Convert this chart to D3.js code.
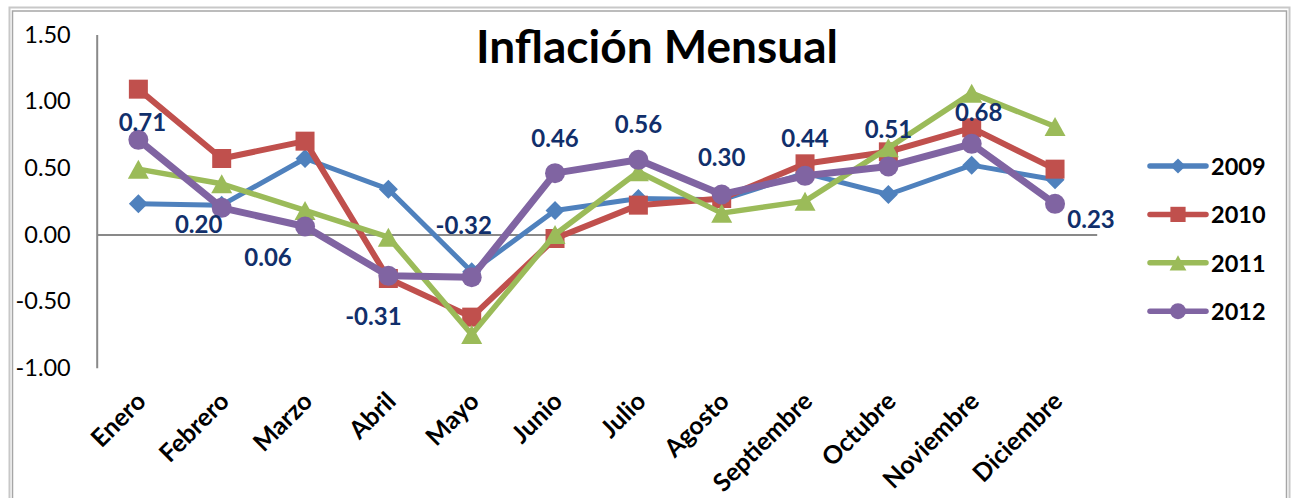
<!DOCTYPE html>
<html>
<head>
<meta charset="utf-8">
<script src="https://cdn.jsdelivr.net/npm/d3@7/dist/d3.min.js"></script>
<style>
  html, body { margin: 0; padding: 0; background: #ffffff; }
  svg { display: block; font-family: Lato, "Open Sans", sans-serif; }
</style>
</head>
<body>
<svg id="chart" width="1295" height="498"></svg>
<script>
// ---- data ----
const categories = ["Enero", "Febrero", "Marzo", "Abril", "Mayo", "Junio",
                    "Julio", "Agosto", "Septiembre", "Octubre", "Noviembre", "Diciembre"];
const seriesNames = ["2009", "2010", "2011", "2012"];
const values2009 = [0.23, 0.22, 0.57, 0.34, -0.28, 0.18, 0.27, 0.26, 0.46, 0.30, 0.52, 0.41];
const values2010 = [1.09, 0.57, 0.70, -0.33, -0.62, -0.03, 0.22, 0.27, 0.53, 0.62, 0.80, 0.49];
const values2011 = [0.49, 0.38, 0.18, -0.02, -0.75, 0.00, 0.47, 0.16, 0.25, 0.65, 1.06, 0.81];
const values2012 = [0.71, 0.20, 0.06, -0.31, -0.32, 0.46, 0.56, 0.30, 0.44, 0.51, 0.68, 0.23];
const yTickValues = [1.5, 1.0, 0.5, 0.0, -0.5, -1.0];
const titleText = "Inflación Mensual";

// ---- styling / placement (kept apart from the data) ----
const colors = ["#4F81BD", "#C0504D", "#9BBB59", "#8064A2"];
const lineWidths = [5, 6, 5.5, 7];
const markerTypes = ["diamond", "square", "triangle", "circle"];
// data-label offsets for the 2012 series, [dx, dy] in px
const labelOffsets = [[4, -18], [-23, 16], [-37, 30], [-15, 40], [-8, -53], [0, -36],
                      [0, -36], [0, -38], [0, -38], [0, -38], [7, -32], [36, 15]];

const fmt = d => d.toFixed(2);   // Excel style, ASCII hyphen for negatives

const svg = d3.select("#chart");

// chart border (double grey line)
svg.append("rect").attr("x", 9.5).attr("y", 7.5).attr("width", 1280).attr("height", 520)
  .attr("fill", "none").attr("stroke", "#C8C8C8").attr("stroke-width", 2);
svg.append("rect").attr("x", 12.5).attr("y", 11).attr("width", 1274).attr("height", 520)
  .attr("fill", "none").attr("stroke", "#A6A6A6").attr("stroke-width", 1.5);

const x = d3.scaleBand().domain(categories).range([96.7, 1096.7]);
const y = d3.scaleLinear().domain([-1, 1.5]).range([367.8, 34.5]);
const cx = c => x(c) + x.bandwidth() / 2;

// y axis
const yAxis = svg.append("g").attr("transform", "translate(96.7,0)")
  .call(d3.axisLeft(y).tickValues(yTickValues).tickFormat(fmt)
        .tickSize(0).tickSizeOuter(0).tickPadding(26));
yAxis.select(".domain").attr("stroke", "#898989").attr("stroke-width", 2);
yAxis.selectAll("text").attr("font-size", "23.5px").attr("fill", "#000")
  .attr("font-family", "Lato, sans-serif");

// zero line (category axis)
const zeroAxis = svg.append("g").attr("transform", `translate(0,${y(0)})`)
  .call(d3.axisBottom(x).tickSize(0).tickSizeOuter(0).tickFormat(""));
zeroAxis.select(".domain").attr("stroke", "#898989").attr("stroke-width", 2);

// category labels at bottom
const xLab = svg.append("g").attr("transform", `translate(0,${y(-1)})`)
  .call(d3.axisBottom(x).tickSize(0).tickSizeOuter(0));
xLab.select(".domain").remove();
xLab.selectAll("text")
  .attr("y", 0).attr("dy", 0)
  .attr("text-anchor", "end")
  .attr("transform", "translate(9,35) rotate(-45)")
  .attr("font-size", "25px").attr("font-weight", "bold").attr("fill", "#000")
  .attr("font-family", "Lato, sans-serif");

function markerPath(type) {
  if (type === "diamond") { const s = 9.5; return `M0,${-s}L${s},0L0,${s}L${-s},0Z`; }
  if (type === "square") { const s = 9.5; return `M${-s},${-s}H${s}V${s}H${-s}Z`; }
  if (type === "triangle") { const w = 10.5, h = 9.5; return `M0,${-h}L${w},${h}L${-w},${h}Z`; }
  return d3.symbol(d3.symbolCircle, Math.PI * 10 * 10)();
}

const allSeries = [values2009, values2010, values2011, values2012];
const line = d3.line().x(d => cx(d.c)).y(d => y(d.v));

allSeries.forEach((vals, i) => {
  const pts = vals.map((v, j) => ({ c: categories[j], v }));
  const g = svg.append("g");
  g.append("path").datum(pts).attr("d", line)
    .attr("fill", "none").attr("stroke", colors[i]).attr("stroke-width", lineWidths[i])
    .attr("stroke-linejoin", "round").attr("stroke-linecap", "round");
  g.selectAll("path.mk").data(pts).join("path").attr("class", "mk")
    .attr("d", markerPath(markerTypes[i]))
    .attr("transform", d => `translate(${cx(d.c)},${y(d.v)})`)
    .attr("fill", colors[i]);
});

// data labels for 2012
svg.append("g").selectAll("text").data(values2012).join("text")
  .attr("x", (d, j) => cx(categories[j]) + labelOffsets[j][0])
  .attr("y", (d, j) => y(d) + labelOffsets[j][1])
  .attr("text-anchor", "middle").attr("dominant-baseline", "central")
  .attr("font-size", "24px").attr("font-weight", "bold").attr("fill", "#112F6B")
  .text(fmt);

// title
svg.append("text").attr("x", 657).attr("y", 63).attr("text-anchor", "middle")
  .attr("font-size", "46px").attr("font-weight", "bold").attr("fill", "#000")
  .text(titleText);

// legend
const legend = svg.append("g");
seriesNames.forEach((name, i) => {
  const ly = 166 + i * 48.4;
  const lg = legend.append("g").attr("transform", `translate(0,${ly})`);
  lg.append("line").attr("x1", 1150).attr("x2", 1206).attr("y1", 0).attr("y2", 0)
    .attr("stroke", colors[i]).attr("stroke-width", 5.5).attr("stroke-linecap", "round");
  lg.append("path").attr("d", markerPath(markerTypes[i]))
    .attr("transform", "translate(1178,0) scale(0.8)").attr("fill", colors[i]);
  lg.append("text").attr("x", 1211).attr("y", 0).attr("dominant-baseline", "central")
    .attr("font-size", "23.5px").attr("font-weight", "bold").attr("fill", "#000")
    .text(name);
});
</script>
</body>
</html>
